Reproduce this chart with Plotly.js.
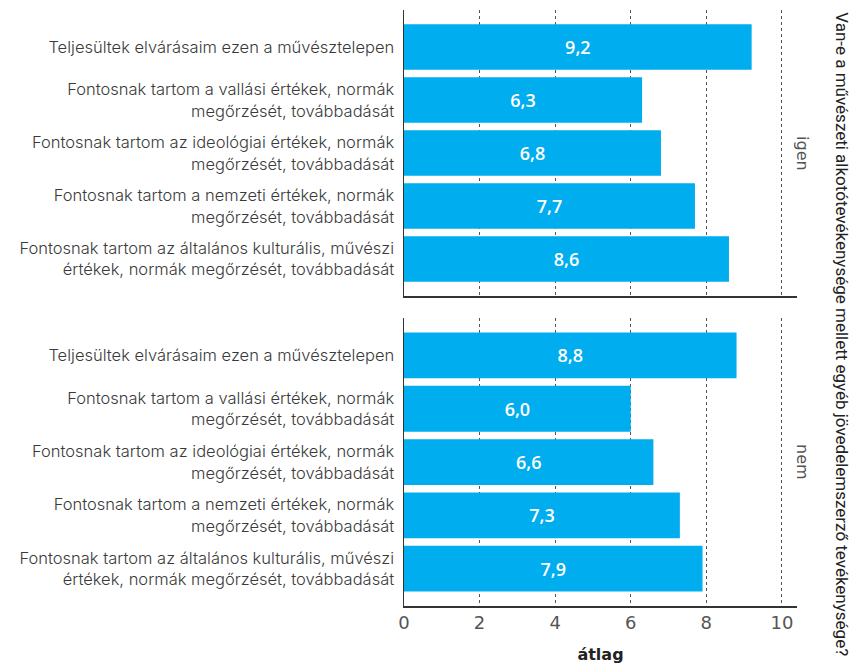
<!DOCTYPE html>
<html>
<head>
<meta charset="utf-8">
<script src="https://cdn.plot.ly/plotly-3.0.1.min.js"></script>
<style>html,body{margin:0;padding:0;background:#fff;}#chart{width:857px;height:666px;}</style>
</head>
<body>
<div id="chart"></div>
<script>
const categories = [
  "Teljesültek elvárásaim ezen a művésztelepen",
  "Fontosnak tartom a vallási értékek, normák<br>megőrzését, továbbadását",
  "Fontosnak tartom az ideológiai értékek, normák<br>megőrzését, továbbadását",
  "Fontosnak tartom a nemzeti értékek, normák<br>megőrzését, továbbadását",
  "Fontosnak tartom az általános kulturális, művészi<br>értékek, normák megőrzését, továbbadását"
];
const igenValues = [9.2, 6.3, 6.8, 7.7, 8.6];
const nemValues = [8.8, 6.0, 6.6, 7.3, 7.9];
const panelLabels = ["igen", "nem"];
const xTickVals = [0, 2, 4, 6, 8, 10];
const xTitle = "átlag";
const sideTitle = "Van-e a művészeti alkotótevékenysége mellett egyéb jövedelemszerző tevékenysége?";

const barColor = "#00ADEE";
const labelFont = {family: "Inter", size: 16.5, color: "#3a3a3a", weight: 300};

function barTrace(values, xa, ya) {
  return {
    type: "bar", orientation: "h",
    x: values, y: categories,
    xaxis: xa, yaxis: ya,
    marker: {color: barColor, line: {width: 0}},
    width: 0.86,
    texttemplate: "%{x:.1f}",
    textposition: "inside",
    insidetextanchor: "middle",
    textangle: 0,
    textfont: {family: "Open Sans", size: 18, color: "#fff", weight: 600},
    hoverinfo: "skip",
    showlegend: false
  };
}

const data = [
  barTrace(igenValues, "x", "y"),
  barTrace(nemValues, "x2", "y2")
];

const xCommon = {
  range: [0, 10.4],
  tickvals: xTickVals,
  showgrid: true,
  gridcolor: "#555",
  griddash: "dot",
  gridwidth: 1,
  zeroline: false,
  showline: true,
  linecolor: "#333",
  linewidth: 1.5,
  ticks: "",
  fixedrange: true
};
const yCommon = {
  type: "category",
  categoryorder: "array",
  categoryarray: categories,
  range: [4.7, -0.7],
  showgrid: false,
  zeroline: false,
  showline: true,
  linecolor: "#333",
  linewidth: 1.5,
  ticks: "",
  ticklabelstandoff: 5,
  tickfont: labelFont,
  fixedrange: true
};

const annotations = [
  {text: panelLabels[0], xref: "paper", yref: "y domain", x: 1, y: 0.5, xshift: 6,
   xanchor: "center", yanchor: "middle", textangle: 90, showarrow: false,
   font: {family: "DejaVu Sans", size: 16, color: "#555"}},
  {text: panelLabels[1], xref: "paper", yref: "y2 domain", x: 1, y: 0.5, xshift: 6,
   xanchor: "center", yanchor: "middle", textangle: 90, showarrow: false,
   font: {family: "DejaVu Sans", size: 16, color: "#555"}},
  {text: sideTitle, xref: "paper", yref: "paper", x: 1, y: 0.456, xshift: 45,
   xanchor: "center", yanchor: "middle", textangle: 90, showarrow: false,
   font: {family: "Roboto", size: 17, color: "#222"}}
];

const layout = {
  width: 857, height: 666,
  margin: {l: 404, r: 60, t: 10, b: 60},
  paper_bgcolor: "#fff",
  plot_bgcolor: "#fff",
  separators: ",.",
  font: {family: "Open Sans", color: "#333"},
  xaxis: Object.assign({}, xCommon, {anchor: "y", showticklabels: false, matches: "x2"}),
  yaxis: Object.assign({}, yCommon, {domain: [0.52, 1], anchor: "x"}),
  xaxis2: Object.assign({}, xCommon, {anchor: "y2", showticklabels: true,
    tickfont: {family: "DejaVu Sans", size: 18, color: "#555"},
    title: {text: "<b>" + xTitle + "</b>", font: {family: "DejaVu Sans", size: 16, color: "#222"}, standoff: 16}}),
  yaxis2: Object.assign({}, yCommon, {domain: [0, 0.483], anchor: "x2"}),
  annotations: annotations
};

Plotly.newPlot("chart", data, layout, {staticPlot: true, displayModeBar: false});
</script>
</body>
</html>
